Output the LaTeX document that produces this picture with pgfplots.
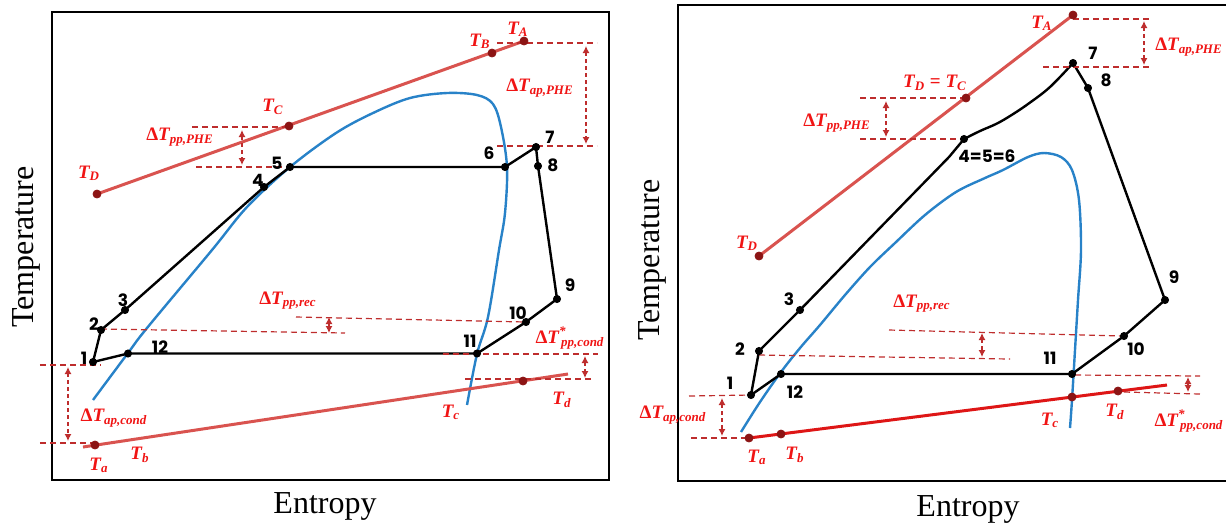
\documentclass[border=0pt]{standalone}
\usepackage{fontspec}
\setmainfont{Liberation Serif}
\newfontfamily\numfont{Poppins}
\usepackage{amsmath}
\usepackage{pgfplots}
\pgfplotsset{compat=1.18}
\usetikzlibrary{arrows.meta}
\DeclareMathSizes{9.5}{9.5}{6.5}{5}

\definecolor{hotRed}{RGB}{217,83,79}
\definecolor{coldRed}{RGB}{222,22,22}
\definecolor{dotRed}{RGB}{140,20,20}
\definecolor{guideRed}{RGB}{190,45,45}
\definecolor{labRed}{RGB}{240,20,20}
\definecolor{domeBlue}{RGB}{40,130,200}

% T with subscript, Delta-T with subscript, Delta-T* with subscript
\newcommand\Tl[1]{T\textsubscript{#1}}
\newcommand\dTl[1]{{\upshape Δ}T\textsubscript{#1}}
\newcommand\dTs[1]{{\upshape Δ}T\textsuperscript{*}\kern-0.28em\textsubscript{#1}}

% axis units are pixels of the reference (y grows downwards)
\pgfplotsset{
  tsbox/.style={scale only axis, y dir=reverse, xtick=\empty, ytick=\empty,
    axis line style={line width=1.2pt}, clip=false},
  cyc/.style={black, line width=1.2pt, no marks},
  dome/.style={domeBlue, line width=1.2pt, no marks, smooth, tension=0.55},
  hot/.style={hotRed, line width=1.5pt, no marks},
  guide/.style={guideRed, line width=0.6pt, no marks, dash pattern=on 3pt off 2pt},
  dim/.style={guideRed, line width=0.6pt, no marks, dash pattern=on 2pt off 1.5pt,
    {Latex[length=3.5pt,width=3.5pt]}-{Latex[length=3.5pt,width=3.5pt]}},
  bdot/.style={only marks, mark=*, mark size=1.8pt, black},
  rdot/.style={only marks, mark=*, mark size=2pt, mark options={fill=dotRed, draw=dotRed}},
}
\tikzset{
  num/.style={font=\fontsize{8.5}{9}\numfont\bfseries},
  lab/.style={text=labRed, inner sep=1pt, font=\fontsize{9.5}{10}\selectfont\bfseries\itshape},
  big/.style={font=\fontsize{16}{16}\selectfont},
}

\begin{document}
\begin{tikzpicture}
% ---------------- left diagram ----------------
\begin{axis}[tsbox, width=278.5pt, height=234pt, at={(26pt,-240pt)}, anchor=south west,
  xmin=52, xmax=609, ymin=12, ymax=480]
\addplot[dome] coordinates {(93,400)(128,353)(147,328)(212,250)(247,207)(290,167)
  (336,133)(373,113)(410,98)(447,93)(477,95)(493,104)(501,127)(507,167)(505,213)
  (499,250)(488,317)(477,354)(467,405)};
\addplot[hot] coordinates {(97,194)(524,41)};
\addplot[hot] coordinates {(83,447)(568,374)};
\addplot[cyc] coordinates {(93,362)(101,330)(125,310)(264,187)(290,167)(505,167)
  (536,147)(538,166)(557,299)(526,322)(477,353.5)(128,353.5)(93,362)};
% guides
\addplot[guide] coordinates {(192,127)(289,127)};
\addplot[guide] coordinates {(196,167)(290,167)};
\addplot[dim] coordinates {(242,130)(242,165)};
\addplot[guide] coordinates {(497,43)(597,43)};
\addplot[guide] coordinates {(497,146)(597,146)};
\addplot[dim] coordinates {(586,46)(586,144)};
\addplot[guide] coordinates {(296,317)(526,322)};
\addplot[guide] coordinates {(101,329)(345,333)};
\addplot[dim] coordinates {(329,317)(329,333)};
\addplot[guide] coordinates {(443,354)(598,354)};
\addplot[guide] coordinates {(465,379)(594,379)};
\addplot[dim] coordinates {(585,356)(585,378)};
\addplot[guide] coordinates {(40,365)(101,365)};
\addplot[guide] coordinates {(40,443)(95,443)};
\addplot[dim] coordinates {(68,367)(68,441)};
% state points
\addplot[bdot] coordinates {(93,362)(101,330)(125,310)(264,187)(290,167)(505,167)
  (536,147)(538,166)(557,299)(526,322)(477,353.5)(128,353.5)};
\addplot[rdot] coordinates {(97,194)(289,126)(492,53)(524,41)(95,445)(523,381)};
% labels
\node[big, rotate=90] at (26,247) {Temperature};
\node[big] at (325,506) {Entropy};
\node[num] at (84,358) {1};
\node[num] at (94,324) {2};
\node[num] at (123,300) {3};
\node[num] at (258,180) {4};
\node[num] at (277,163) {5};
\node[num] at (489,153) {6};
\node[num] at (550,137) {7};
\node[num] at (553,165) {8};
\node[num] at (570,285) {9};
\node[num] at (518,313) {10};
\node[num] at (470,341) {11};
\node[num] at (160,347) {12};
\node[lab] at (89,173) {\Tl{D}};
\node[lab] at (273,107) {\Tl{C}};
\node[lab] at (480,41) {\Tl{B}};
\node[lab] at (518,29) {\Tl{A}};
\node[lab] at (180,137) {\dTl{pp,PHE}};
\node[lab] at (540,88) {\dTl{ap,PHE}};
\node[lab] at (288,301) {\dTl{pp,rec}};
\node[lab] at (570,338) {\dTs{pp,cond}};
\node[lab] at (114,418) {\dTl{ap,cond}};
\node[lab] at (99,465) {\Tl{a}};
\node[lab] at (140,455) {\Tl{b}};
\node[lab] at (451,412) {\Tl{c}};
\node[lab] at (562,400) {\Tl{d}};
\end{axis}

% ---------------- right diagram ----------------
\begin{axis}[tsbox, width=276pt, height=238pt, at={(339pt,-240.5pt)}, anchor=south west,
  xmin=678, xmax=1230, ymin=5, ymax=481]
\addplot[dome] coordinates {(741,432)(760,402)(781,372)(800,348)(820,325)(845,295)
  (870,267)(895,243)(925,215)(956,192)(985,178)(1003,170)(1028,157)(1044,153)
  (1061,157)(1072,170)(1079,200)(1081,250)(1078,300)(1075,350)(1072,400)(1070,428)};
\addplot[hot] coordinates {(759,256)(1073,15)};
\addplot[coldRed, line width=1.5pt, no marks] coordinates {(749,438)(1167,385)};
\addplot[cyc] coordinates {(751,395)(759,351)(800,310)(949,157)(964,139)};
\addplot[cyc, smooth, tension=0.6] coordinates {(964,139)(980,131)(996,124)(1010,116)
  (1028,104)(1050,87)(1073,63)};
\addplot[cyc] coordinates {(1073,63)(1088,88)(1165,300)(1124,336)(1072,374)(781,374)(751,395)};
% guides
\addplot[guide] coordinates {(860,98)(966,98)};
\addplot[guide] coordinates {(860,139)(963,139)};
\addplot[dim] coordinates {(886,101)(886,137)};
\addplot[guide] coordinates {(1073,19)(1151,19)};
\addplot[guide] coordinates {(1043,67)(1151,67)};
\addplot[dim] coordinates {(1144,21)(1144,65)};
\addplot[guide] coordinates {(889,330)(1124,336)};
\addplot[guide] coordinates {(759,355)(1010,359)};
\addplot[dim] coordinates {(982,333)(982,357)};
\addplot[guide] coordinates {(1075,375)(1200,376)};
\addplot[guide] coordinates {(1124,392)(1200,394)};
\addplot[dim] coordinates {(1188,377)(1188,392)};
\addplot[guide] coordinates {(689,396)(751,395)};
\addplot[guide] coordinates {(691,438)(749,438)};
\addplot[dim] coordinates {(722,398)(722,436)};
% state points
\addplot[bdot] coordinates {(751,395)(759,351)(800,310)(964,139)(1073,63)(1088,88)
  (1165,300)(1124,336)(1072,374)(781,374)};
\addplot[rdot] coordinates {(759,256)(966,98)(1073,15)(749,438)(781,434)(1072,397)(1118,391)};
% labels
\node[big, rotate=90] at (652,260) {Temperature};
\node[big] at (968,509) {Entropy};
\node[num] at (730,383) {1};
\node[num] at (740,349) {2};
\node[num] at (789,299) {3};
\node[num] at (987,156) {4=5=6};
\node[num] at (1093,53) {7};
\node[num] at (1106,80) {8};
\node[num] at (1174,277) {9};
\node[num] at (1136,349) {10};
\node[num] at (1050,358) {11};
\node[num] at (795,392) {12};
\node[lab] at (1042,23) {\Tl{A}};
\node[lab] at (935,83) {\Tl{D} {\upshape =} \Tl{C}};
\node[lab] at (747,243) {\Tl{D}};
\node[lab] at (837,123) {\dTl{pp,PHE}};
\node[lab] at (1189,47) {\dTl{ap,PHE}};
\node[lab] at (922,304) {\dTl{pp,rec}};
\node[lab] at (1189,421) {\dTs{pp,cond}};
\node[lab] at (673,415) {\dTl{ap,cond}};
\node[lab] at (757,457) {\Tl{a}};
\node[lab] at (795,455) {\Tl{b}};
\node[lab] at (1050,420) {\Tl{c}};
\node[lab] at (1115,412) {\Tl{d}};
\end{axis}
\pgfresetboundingbox
\useasboundingbox (0,0) rectangle (613pt,-263.5pt);
\end{tikzpicture}
\end{document}
